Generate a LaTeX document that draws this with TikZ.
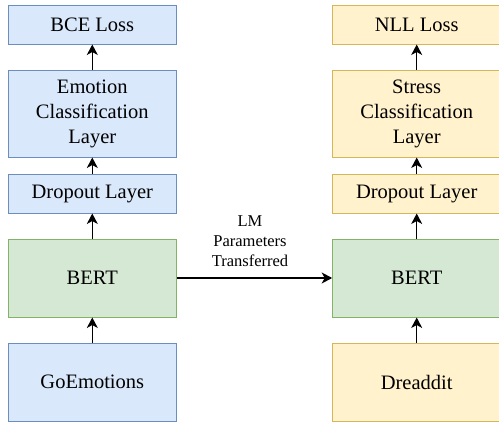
\documentclass[tikz,border=0pt]{standalone}
\usepackage{fontspec}
\setmainfont{Liberation Serif}
\newfontfamily\tnr{Liberation Serif}
\usetikzlibrary{arrows.meta}
\definecolor{bfill}{HTML}{DAE8FC}\definecolor{bdraw}{HTML}{6C8EBF}
\definecolor{gfill}{HTML}{D5E8D4}\definecolor{gdraw}{HTML}{82B366}
\definecolor{yfill}{HTML}{FFF2CC}\definecolor{ydraw}{HTML}{D6B656}
\begin{document}
\begin{tikzpicture}[x=1pt,y=-1pt,
  box/.style={rectangle, draw, line width=1pt, minimum width=168pt, inner sep=0pt, align=center, font=\tnr\fontsize{20.5}{25}\selectfont},
  bluebox/.style={box, fill=bfill, draw=bdraw},
  greenbox/.style={box, fill=gfill, draw=gdraw},
  yellowbox/.style={box, fill=yfill, draw=ydraw},
  arr/.style={line width=1.4pt, -{Stealth[length=10.5pt,width=11pt,inset=3pt]}}]
\useasboundingbox (0,0) rectangle (499,423);
% left column
\node[bluebox, minimum height=39pt] (bce) at (92.3,24.5) {BCE Loss};
\node[bluebox, minimum height=87pt] (ecl) at (92.3,113.5) {Emotion\\Classification\\Layer};
\node[bluebox, minimum height=39pt] (ldrop) at (92.3,193.5) {Dropout Layer};
\node[greenbox, minimum height=78pt] (lbert) at (92.3,278) {BERT};
\node[bluebox, minimum height=78pt] (goe) at (92.3,382) {GoEmotions};
% right column
\node[yellowbox, minimum height=39pt] (nll) at (416.7,24.5) {NLL Loss};
\node[yellowbox, minimum height=87pt] (scl) at (416.7,113.5) {Stress\\Classification\\Layer};
\node[yellowbox, minimum height=39pt] (rdrop) at (416.7,193.5) {Dropout Layer};
\node[greenbox, minimum height=78pt] (rbert) at (416.7,278) {BERT};
\node[yellowbox, minimum height=78pt] (dre) at (416.7,382) {Dreaddit};
% arrows
\draw[arr] (goe) -- (lbert);
\draw[arr] (lbert) -- (ldrop);
\draw[arr] (ldrop) -- (ecl);
\draw[arr] (ecl) -- (bce);
\draw[arr] (dre) -- (rbert);
\draw[arr] (rbert) -- (rdrop);
\draw[arr] (rdrop) -- (scl);
\draw[arr] (scl) -- (nll);
\draw[arr] (lbert) -- (rbert);
\node[align=center, font=\tnr\fontsize{16.5}{20}\selectfont, inner sep=0pt] (lbl) at (250,241) {LM\\Parameters\\Transferred};
\end{tikzpicture}
\end{document}
